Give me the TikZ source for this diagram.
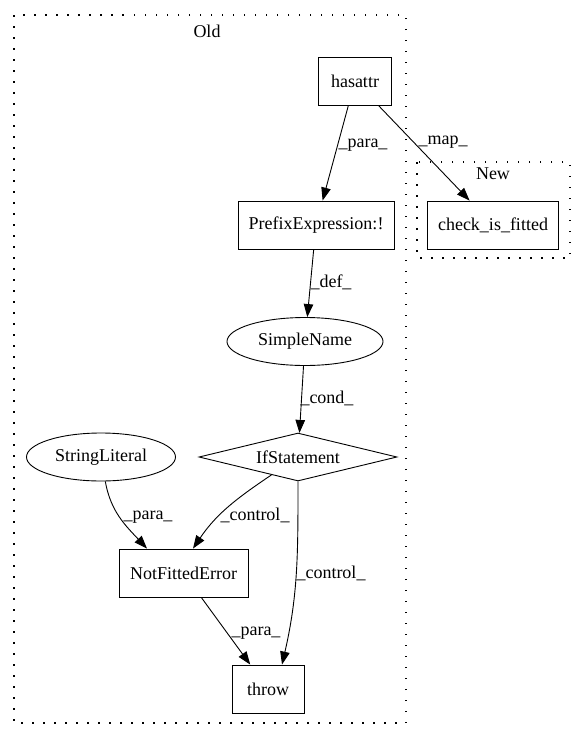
\documentclass[tikz,border=0pt]{standalone}
\usepackage{fontspec}
\setmainfont{Liberation Serif}
\usetikzlibrary{shapes.geometric,arrows.meta}
\begin{document}
\begin{tikzpicture}[x=1pt,y=1pt,
  every node/.style={font=\fontsize{18}{21}\selectfont},
  box/.style={draw, line width=0.9pt, rectangle, minimum height=48pt, inner sep=0pt},
  ell/.style={draw, line width=0.9pt, ellipse, minimum height=48pt, inner sep=0pt},
  dia/.style={draw, line width=0.9pt, diamond, aspect=4, minimum height=48pt, inner sep=0pt},
  cluster/.style={draw, line width=1.3pt, dash pattern=on 1.5pt off 9.5pt},
  edge/.style={line width=0.9pt, -{Triangle[length=13pt,width=9.5pt]}},
  lab/.style={inner sep=0pt},
]
\useasboundingbox (0,0) rectangle (585,-740);
% clusters
\draw[cluster] (14,-15) rectangle (406,-723);
\draw[cluster] (417,-162) rectangle (570,-258);
\node (oldt) at (207,-31) {Old};
\node (newt) at (493,-174) {New};
% nodes
\node[box, minimum width=73pt] (hasattr) at (355,-81) {hasattr};
\node[box, minimum width=156pt] (prefix) at (316,-225) {PrefixExpression:!};
\node[box, minimum width=131pt] (check) at (493,-225) {check\_is\_fitted};
\node[ell, minimum width=156pt] (simple) at (305,-341.5) {SimpleName};
\node[dia, minimum width=198pt] (ifst) at (298,-457) {IfStatement};
\node[ell, minimum width=149pt] (strlit) at (101,-457) {StringLiteral};
\node[box, minimum width=129pt] (nfe) at (183.5,-573) {NotFittedError};
\node[box, minimum width=72pt] (throw) at (268,-689) {throw};
% edges
\draw[edge] (hasattr) -- (prefix);
\draw[edge] (hasattr) -- (check);
\draw[edge] (prefix) -- (simple);
\draw[edge] (simple) -- (ifst);
\draw[edge] (strlit) to[out=-80,in=133] ([xshift=-36.5pt]nfe.north);
\draw[edge] (ifst) to[out=-146,in=56] ([xshift=9.5pt]nfe.north);
\draw[edge] (ifst) to[out=-90,in=77] ([xshift=14pt]throw.north);
\draw[edge] (nfe) -- (throw);
% labels
\node[lab] (l1) at (363,-145) {\_para\_};
\node[lab] (l2) at (443,-142) {\_map\_};
\node[lab] (l3) at (331,-282) {\_def\_};
\node[lab] (l4) at (327,-398) {\_cond\_};
\node[lab] (l5) at (148,-517) {\_para\_};
\node[lab] (l6) at (255,-515) {\_control\_};
\node[lab] (l7) at (331,-573) {\_control\_};
\node[lab] (l8) at (256,-633) {\_para\_};
\end{tikzpicture}
\end{document}
